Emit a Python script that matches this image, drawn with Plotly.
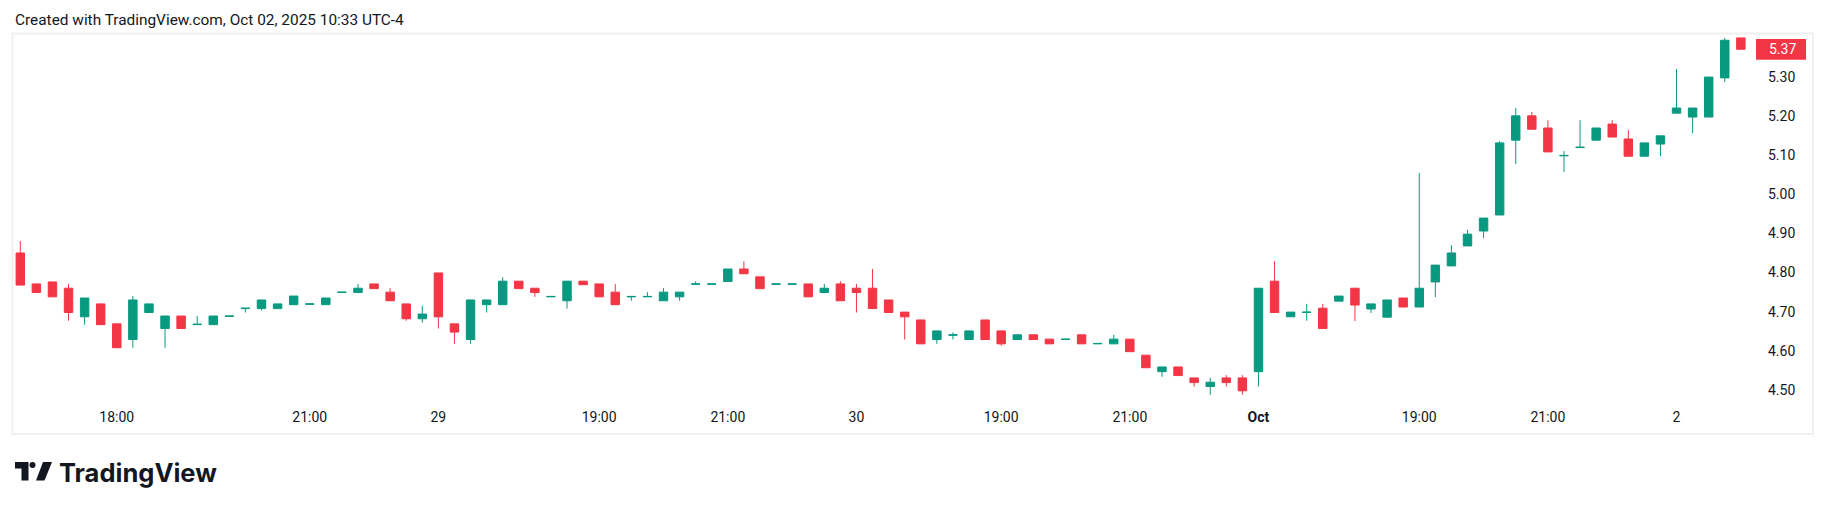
import plotly.graph_objects as go

# ---- data (15-minute bars) ----
opens = [4.850, 4.771, 4.776, 4.760, 4.687, 4.720, 4.669, 4.629, 4.698, 4.657,
         4.689, 4.667, 4.667, 4.688, 4.708, 4.708, 4.708, 4.718, 4.719, 4.718,
         4.749, 4.749, 4.771, 4.750, 4.720, 4.682, 4.799, 4.669, 4.629, 4.718,
         4.718, 4.778, 4.760, 4.738, 4.728, 4.778, 4.771, 4.750, 4.738, 4.738,
         4.728, 4.738, 4.770, 4.770, 4.777, 4.809, 4.789, 4.770, 4.770, 4.771,
         4.749, 4.771, 4.760, 4.760, 4.730, 4.699, 4.679, 4.629, 4.640, 4.629,
         4.679, 4.651, 4.629, 4.641, 4.630, 4.629, 4.641, 4.618, 4.618, 4.630,
         4.589, 4.547, 4.559, 4.531, 4.509, 4.531, 4.531, 4.547, 4.778, 4.687,
         4.698, 4.709, 4.727, 4.760, 4.707, 4.686, 4.735, 4.712, 4.776, 4.817,
         4.868, 4.906, 4.947, 5.138, 5.200, 5.169, 5.098, 5.119, 5.138, 5.179,
         5.141, 5.097, 5.128, 5.207, 5.197, 5.197, 5.297, 5.399]
highs = [4.880, 4.771, 4.776, 4.771, 4.735, 4.720, 4.669, 4.740, 4.720, 4.689,
         4.689, 4.689, 4.689, 4.689, 4.709, 4.730, 4.720, 4.740, 4.720, 4.735,
         4.750, 4.771, 4.771, 4.760, 4.720, 4.715, 4.799, 4.669, 4.730, 4.730,
         4.788, 4.778, 4.760, 4.739, 4.778, 4.778, 4.771, 4.771, 4.739, 4.750,
         4.760, 4.750, 4.778, 4.771, 4.809, 4.829, 4.789, 4.771, 4.771, 4.771,
         4.771, 4.778, 4.771, 4.809, 4.730, 4.699, 4.679, 4.651, 4.647, 4.651,
         4.679, 4.651, 4.641, 4.641, 4.630, 4.630, 4.641, 4.619, 4.641, 4.630,
         4.589, 4.559, 4.559, 4.531, 4.531, 4.538, 4.538, 4.760, 4.829, 4.699,
         4.720, 4.720, 4.740, 4.760, 4.720, 4.730, 4.735, 5.054, 4.819, 4.870,
         4.909, 4.939, 5.136, 5.220, 5.210, 5.189, 5.110, 5.189, 5.169, 5.189,
         5.164, 5.131, 5.149, 5.320, 5.220, 5.299, 5.399, 5.399]
lows = [4.768, 4.749, 4.738, 4.677, 4.667, 4.667, 4.608, 4.608, 4.698, 4.608,
        4.657, 4.667, 4.667, 4.688, 4.698, 4.703, 4.708, 4.718, 4.719, 4.718,
        4.749, 4.749, 4.759, 4.728, 4.677, 4.672, 4.657, 4.618, 4.618, 4.698,
        4.718, 4.759, 4.738, 4.738, 4.708, 4.769, 4.738, 4.718, 4.728, 4.738,
        4.728, 4.728, 4.770, 4.770, 4.777, 4.797, 4.759, 4.770, 4.770, 4.738,
        4.749, 4.728, 4.698, 4.708, 4.698, 4.629, 4.618, 4.618, 4.629, 4.629,
        4.629, 4.613, 4.629, 4.629, 4.618, 4.629, 4.618, 4.618, 4.618, 4.598,
        4.557, 4.534, 4.537, 4.509, 4.488, 4.509, 4.488, 4.509, 4.698, 4.687,
        4.677, 4.657, 4.727, 4.676, 4.697, 4.686, 4.712, 4.712, 4.737, 4.817,
        4.868, 4.888, 4.947, 5.077, 5.166, 5.108, 5.057, 5.119, 5.138, 5.146,
        5.097, 5.097, 5.097, 5.207, 5.156, 5.197, 5.286, 5.370]
closes = [4.768, 4.749, 4.738, 4.698, 4.735, 4.667, 4.608, 4.730, 4.720, 4.689,
          4.657, 4.668, 4.689, 4.689, 4.709, 4.730, 4.720, 4.740, 4.720, 4.735,
          4.750, 4.760, 4.759, 4.728, 4.682, 4.694, 4.687, 4.648, 4.730, 4.730,
          4.778, 4.759, 4.749, 4.739, 4.778, 4.769, 4.738, 4.718, 4.739, 4.739,
          4.750, 4.750, 4.771, 4.771, 4.809, 4.797, 4.759, 4.771, 4.771, 4.738,
          4.760, 4.728, 4.749, 4.708, 4.698, 4.687, 4.618, 4.651, 4.641, 4.651,
          4.629, 4.618, 4.641, 4.629, 4.618, 4.630, 4.618, 4.619, 4.630, 4.598,
          4.557, 4.559, 4.537, 4.519, 4.520, 4.519, 4.498, 4.760, 4.698, 4.699,
          4.699, 4.657, 4.740, 4.717, 4.720, 4.730, 4.712, 4.760, 4.819, 4.850,
          4.898, 4.939, 5.131, 5.200, 5.166, 5.108, 5.099, 5.120, 5.169, 5.146,
          5.097, 5.131, 5.149, 5.220, 5.220, 5.299, 5.393, 5.370]
bars = list(range(len(closes)))

time_tick_bars = [6, 18, 26, 36, 44, 52, 61, 69, 77, 87, 95, 103]
time_tick_labels = ["18:00", "21:00", "29", "19:00", "21:00", "30",
                    "19:00", "21:00", "<b>Oct</b>", "19:00", "21:00", "2"]
price_ticks = [4.50, 4.60, 4.70, 4.80, 4.90, 5.00, 5.10, 5.20, 5.30]

UP = "#089981"
DOWN = "#F23645"
TEXT = "#131722"
FONT = "Roboto, 'Open Sans', sans-serif"

W, H = 1826, 509
L, R, T, B = 13, 1756, 34, 405   # plot area in pixels


def px(x):
    return (x - L) / (R - L)


def py(y):
    return (B - y) / (B - T)


fig = go.Figure(go.Candlestick(
    x=bars, open=opens, high=highs, low=lows, close=closes,
    increasing=dict(line=dict(color=UP, width=1), fillcolor=UP),
    decreasing=dict(line=dict(color=DOWN, width=1), fillcolor=DOWN),
    whiskerwidth=0, hoverinfo="skip", showlegend=False,
))

# price scale mapping: 5.30 at y=76.7px, 391.7 px per 1.00
ppu = 391.7
y_top = 5.30 + (76.7 - T) / ppu
y_bot = 5.30 - (B - 76.7) / ppu
# bar spacing 16.08px, bar 0 centered at x=20.3px
spacing = 16.08
x_left = (L - 20.3) / spacing
x_right = (R - 20.3) / spacing

fig.update_layout(
    width=W, height=H,
    margin=dict(l=L, r=W - R, t=T, b=H - B, pad=0),
    paper_bgcolor="white", plot_bgcolor="white",
    boxgap=0.25,
    font=dict(family=FONT, size=14, color=TEXT),
    xaxis=dict(
        range=[x_left, x_right], rangeslider=dict(visible=False),
        showgrid=False, zeroline=False, showline=False, ticks="",
        tickmode="array", tickvals=time_tick_bars, ticktext=time_tick_labels,
        tickfont=dict(family=FONT, size=14, color=TEXT),
        ticklabelstandoff=2,
    ),
    yaxis=dict(
        range=[y_bot, y_top], side="right",
        showgrid=False, zeroline=False, showline=False, ticks="",
        tickmode="array", tickvals=price_ticks,
        ticktext=[f"{v:.2f}" for v in price_ticks],
        tickfont=dict(family=FONT, size=14, color=TEXT),
        ticklabelstandoff=11,
    ),
)

shapes = []
# outer frame
shapes.append(dict(type="rect", xref="paper", yref="paper",
                   x0=px(12.5), x1=px(1813), y0=py(434), y1=py(33.5),
                   line=dict(color="#EFEFEF", width=2), fillcolor="rgba(0,0,0,0)",
                   layer="above"))
# last price label box
last = closes[-1]
half = 10.4 / ppu
shapes.append(dict(type="rect", xref="paper", yref="y",
                   x0=px(1756), x1=px(1806), y0=last - half, y1=last + half,
                   line=dict(width=0), fillcolor=DOWN, layer="above"))

# TradingView logo glyph
shapes.append(dict(type="path", xref="paper", yref="paper",
                   path=(f"M {px(15)} {py(462)} L {px(28.5)} {py(462)} L {px(28.5)} {py(480.5)} "
                         f"L {px(21.5)} {py(480.5)} L {px(21.5)} {py(468.5)} L {px(15)} {py(468.5)} Z"),
                   line=dict(width=0), fillcolor="#131722"))
shapes.append(dict(type="circle", xref="paper", yref="paper",
                   x0=px(29.5), x1=px(35.5), y0=py(468), y1=py(462),
                   line=dict(width=0), fillcolor="#131722"))
shapes.append(dict(type="path", xref="paper", yref="paper",
                   path=(f"M {px(43)} {py(462)} L {px(52)} {py(462)} L {px(44.5)} {py(480.5)} "
                         f"L {px(36)} {py(480.5)} Z"),
                   line=dict(width=0), fillcolor="#131722"))
fig.update_layout(shapes=shapes)

annotations = [
    dict(text="Created with TradingView.com, Oct 02, 2025 10:33 UTC-4",
         xref="paper", yref="paper", x=px(13), y=py(20), xanchor="left", yanchor="middle",
         showarrow=False, font=dict(family=FONT, size=15.4, color=TEXT)),
    dict(text=f"{last:.2f}", xref="paper", yref="y", x=px(1767), y=last,
         xanchor="left", yanchor="middle", showarrow=False,
         font=dict(family=FONT, size=14, color="white")),
    dict(text="<b>TradingView</b>", xref="paper", yref="paper", x=px(57), y=py(472),
         xanchor="left", yanchor="middle", showarrow=False,
         font=dict(family="Inter, Roboto, sans-serif", size=25.5, color="#131722")),
]
fig.update_layout(annotations=annotations)

fig.write_html("out.html", config={"displayModeBar": False},
               post_script="document.body.style.margin='0';document.body.style.padding='0';")
